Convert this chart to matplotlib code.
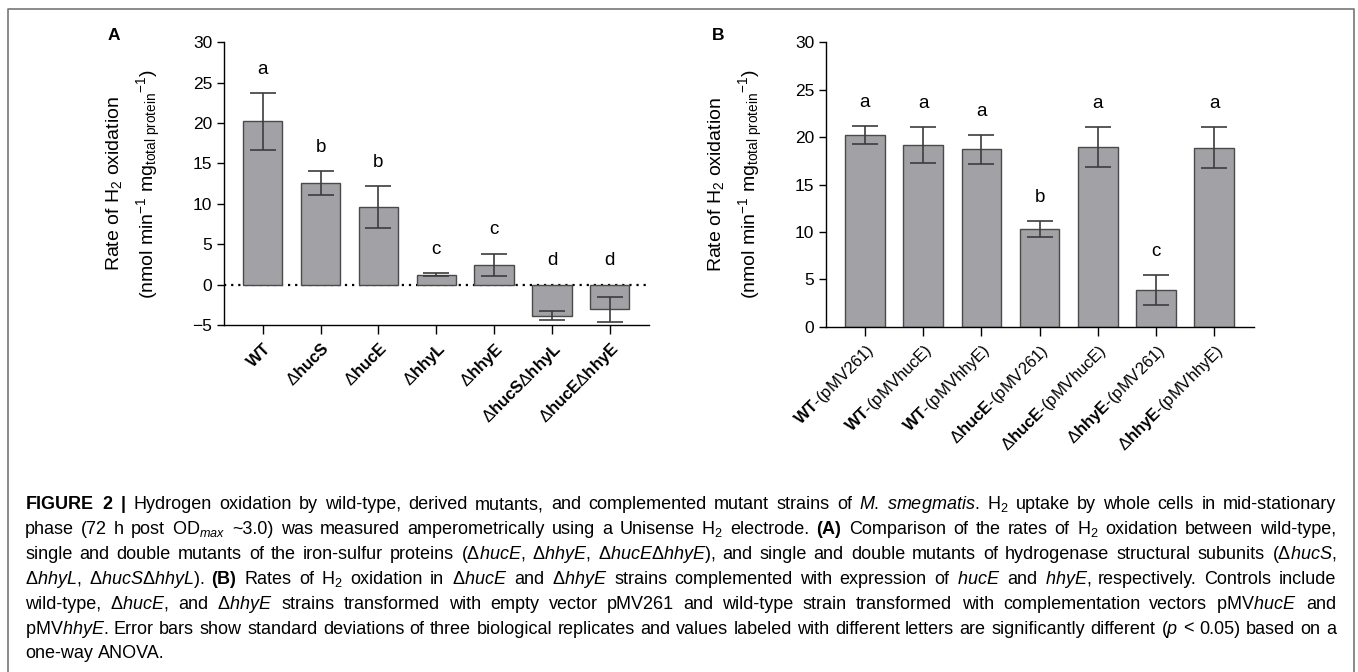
import matplotlib
matplotlib.use("Agg")
import matplotlib.pyplot as plt
from matplotlib.lines import Line2D
import numpy as np

plt.rcParams['font.family'] = ['Liberation Sans', 'DejaVu Sans']
plt.rcParams['mathtext.fontset'] = 'custom'
plt.rcParams['mathtext.rm'] = 'Liberation Sans'
plt.rcParams['mathtext.it'] = 'Liberation Sans:italic'
plt.rcParams['mathtext.bf'] = 'Liberation Sans:bold'

# Panel A: mutants
labels_a = [r'$\mathbf{WT}$', r'Δ$\mathbf{hucS}$', r'Δ$\mathbf{hucE}$', r'Δ$\mathbf{hhyL}$',
            r'Δ$\mathbf{hhyE}$', r'Δ$\mathbf{hucS}$Δ$\mathbf{hhyL}$', r'Δ$\mathbf{hucE}$Δ$\mathbf{hhyE}$']
means_a = [20.2, 12.55, 9.6, 1.2, 2.48, -3.84, -3.06]
sd_a = [3.5, 1.5, 2.65, 0.18, 1.36, 0.58, 1.57]
letters_a = ['a', 'b', 'b', 'c', 'c', 'd', 'd']

# Panel B: complemented strains
labels_b = [r'$\mathbf{WT}$-(pMV261)', r'$\mathbf{WT}$-(pMVhucE)', r'$\mathbf{WT}$-(pMVhhyE)',
            r'Δ$\mathbf{hucE}$-(pMV261)', r'Δ$\mathbf{hucE}$-(pMVhucE)',
            r'Δ$\mathbf{hhyE}$-(pMV261)', r'Δ$\mathbf{hhyE}$-(pMVhhyE)']
means_b = [20.25, 19.2, 18.7, 10.3, 19.0, 3.85, 18.9]
sd_b = [0.95, 1.9, 1.55, 0.88, 2.1, 1.6, 2.2]
letters_b = ['a', 'a', 'a', 'b', 'a', 'c', 'a']

caption = [
    r'$\mathbf{FIGURE}$ $\mathbf{2}$ $\mathbf{|}$ Hydrogen oxidation by wild-type, derived mutants, and complemented mutant strains of $\mathit{M.}$ $\mathit{smegmatis}$. H$_2$ uptake by whole cells in mid-stationary',
    r'phase (72 h post OD$_{max}$ ~3.0) was measured amperometrically using a Unisense H$_2$ electrode. $\mathbf{(A)}$ Comparison of the rates of H$_2$ oxidation between wild-type,',
    r'single and double mutants of the iron-sulfur proteins (Δ$\mathit{hucE}$, Δ$\mathit{hhyE}$, Δ$\mathit{hucE}$Δ$\mathit{hhyE}$), and single and double mutants of hydrogenase structural subunits (Δ$\mathit{hucS}$,',
    r'Δ$\mathit{hhyL}$, Δ$\mathit{hucS}$Δ$\mathit{hhyL}$). $\mathbf{(B)}$ Rates of H$_2$ oxidation in Δ$\mathit{hucE}$ and Δ$\mathit{hhyE}$ strains complemented with expression of $\mathit{hucE}$ and $\mathit{hhyE}$, respectively. Controls include',
    r'wild-type, Δ$\mathit{hucE}$, and Δ$\mathit{hhyE}$ strains transformed with empty vector pMV261 and wild-type strain transformed with complementation vectors pMV$\mathit{hucE}$ and',
    r'pMV$\mathit{hhyE}$. Error bars show standard deviations of three biological replicates and values labeled with different letters are significantly different ($\mathit{p}$ < 0.05) based on a',
    r'one-way ANOVA.',
]

bar_color = '#a2a2a6'
edge_color = '#4a4a4a'
err_color = '#3c3c3c'

W, H = 1358, 672
fig = plt.figure(figsize=(W / 100, H / 100), dpi=100)


def draw_panel(ax, labels, means, sd, letters, ylim, yticks):
    x = np.arange(len(means))
    ax.bar(x, means, width=0.68, color=bar_color, edgecolor=edge_color, linewidth=1.0, zorder=2)
    ax.errorbar(x, means, yerr=sd, fmt='none', ecolor=err_color, elinewidth=1.2,
                capsize=9.5, capthick=1.2, zorder=3)
    for i, (m, s, l) in enumerate(zip(means, sd, letters)):
        top = max(m + s, 0)
        ax.annotate(l, (i, top), xytext=(0, 17), textcoords='offset points',
                    ha='center', va='center', fontsize=13.5)
    ax.set_xlim(-0.67, len(means) - 1 + 0.68)
    ax.set_ylim(*ylim)
    ax.set_yticks(yticks)
    ax.set_xticks(x)
    ax.set_xticklabels(labels, rotation=45, ha='right', va='top', rotation_mode='anchor', fontsize=12)
    ax.tick_params(axis='y', labelsize=12.5, length=5, width=1)
    ax.tick_params(axis='x', length=6.5, width=1, pad=4)
    for s in ['top', 'right']:
        ax.spines[s].set_visible(False)
    for s in ['left', 'bottom']:
        ax.spines[s].set_linewidth(1.0)
    ax.annotate('Rate of H$_2$ oxidation', xy=(0, 0.5), xycoords='axes fraction',
                xytext=(-79, 0), textcoords='offset points', rotation=90,
                ha='center', va='center', fontsize=14)
    ax.annotate(r'(nmol min$^{-1}$ mg$_{\mathrm{total\ protein}}{}^{-1}$)', xy=(0, 0.5),
                xycoords='axes fraction', xytext=(-54, 0), textcoords='offset points',
                rotation=90, ha='center', va='center', fontsize=14)


ax_a = fig.add_axes([0.165, 0.5164, 0.313, 0.4207])
draw_panel(ax_a, labels_a, means_a, sd_a, letters_a, (-5, 30), range(-5, 31, 5))
ax_a.axhline(0, color='black', linestyle=(0, (1, 2.2)), linewidth=1.6, zorder=1)

ax_b = fig.add_axes([0.6082, 0.5138, 0.315, 0.4232])
draw_panel(ax_b, labels_b, means_b, sd_b, letters_b, (0, 30), range(0, 31, 5))

fig.text(114 / W, 1 - 35 / H, 'A', fontsize=12.5, fontweight='bold', ha='center', va='center')
fig.text(718 / W, 1 - 35 / H, 'B', fontsize=12.5, fontweight='bold', ha='center', va='center')

# justified caption: place word by word
cap_size = 13.0
renderer = fig.canvas.get_renderer()
left, right = 25, 1336
sp = fig.text(0, 0, 'a a', fontsize=cap_size)
sp2 = fig.text(0, 0, 'aa', fontsize=cap_size)
space_w = sp.get_window_extent(renderer).width - sp2.get_window_extent(renderer).width
sp.remove()
sp2.remove()
for k, line in enumerate(caption):
    y = 1 - (509 + 24.9 * k) / H
    words = line.split(' ')
    texts = [fig.text(0, y, w, fontsize=cap_size, ha='left', va='baseline') for w in words]
    widths = [t.get_window_extent(renderer).width for t in texts]
    if k < len(caption) - 1:
        gap = (right - left - sum(widths)) / (len(words) - 1)
    else:
        gap = space_w
    xpos = left
    for t, w in zip(texts, widths):
        t.set_x(xpos / W)
        xpos += w + gap

# frame around the figure (open at the bottom)
fx = np.array([8, 8, 1354, 1354]) / W
fy = 1 - np.array([672, 9, 9, 672]) / H
fig.add_artist(Line2D(fx, fy, color='#777777', linewidth=1.2))

fig.savefig('out.png', dpi=100)
